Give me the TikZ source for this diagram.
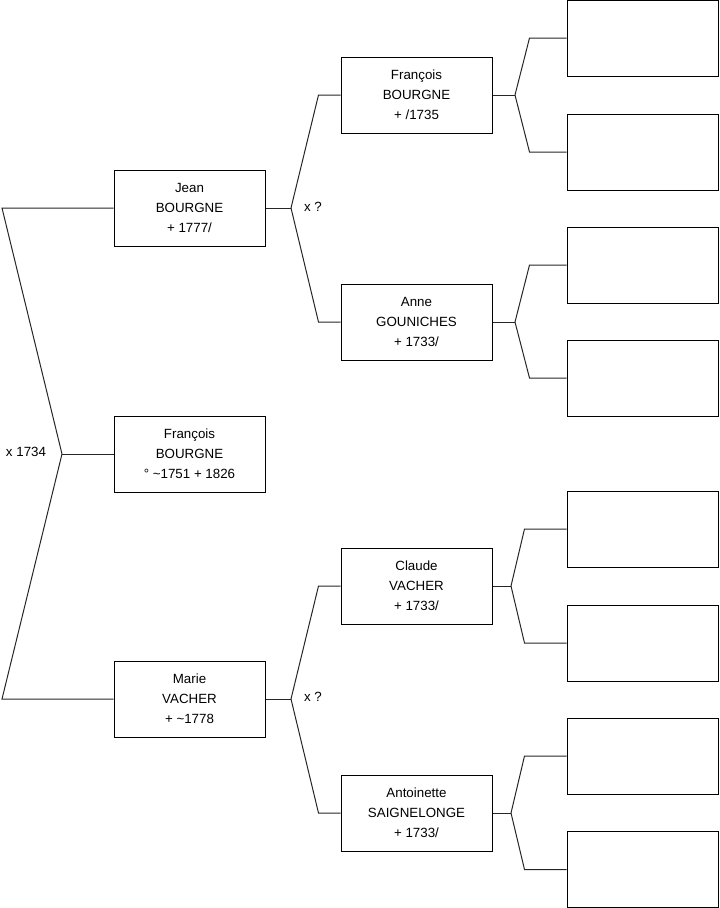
\documentclass[tikz,border=0pt]{standalone}
\usepackage{fontspec}
\setmainfont{Liberation Sans}
\usetikzlibrary{positioning}

\begin{document}
\begin{tikzpicture}[x=0.75pt, y=-0.75pt, line width=0.75pt,
    every node/.style={font=\fontsize{10}{15}\selectfont},
    pers/.style={draw, rectangle, fill=white, align=center, inner sep=0pt,
                 minimum width=113.25pt, minimum height=57pt},
    lien/.style={draw=black!85}]
    \useasboundingbox (0,0) rectangle (719,908);

    % generation 1 et 2
    \node[pers] (F) at (189.5,454) {François\\BOURGNE\\° \textasciitilde 1751 + 1826};
    \node[pers] (J) at (189.5,208) {Jean\\BOURGNE\\+ 1777/};
    \node[pers] (M) at (189.5,699) {Marie\\VACHER\\+ \textasciitilde 1778};

    % generation 3
    \node[pers] (JP) at (416.5,95)  {François\\BOURGNE\\+ /1735};
    \node[pers] (JM) at (416.5,322) {Anne\\GOUNICHES\\+ 1733/};
    \node[pers] (MP) at (416.5,586) {Claude\\VACHER\\+ 1733/};
    \node[pers] (MM) at (416.5,813) {Antoinette\\SAIGNELONGE\\+ 1733/};

    % generation 4 (vides)
    \node[pers] (JPP) at (642.5,38)  {};
    \node[pers] (JPM) at (642.5,152) {};
    \node[pers] (JMP) at (642.5,265) {};
    \node[pers] (JMM) at (642.5,378) {};
    \node[pers] (MPP) at (642.5,529) {};
    \node[pers] (MPM) at (642.5,643) {};
    \node[pers] (MMP) at (642.5,756) {};
    \node[pers] (MMM) at (642.5,869.5) {};

    % points de fourche
    \coordinate (fx) at (62,454);
    \coordinate (jx) at (291,208);
    \coordinate (mx) at (291,699);
    \coordinate (jpx) at (515,95);
    \coordinate (jmx) at (515,322);
    \coordinate (mpx) at (511,586);
    \coordinate (mmx) at (511,813);

    \node (x0) at (26,452) {x 1734};
    \node (x1) at (313,207) {x ?};
    \node (x2) at (313,697) {x ?};

    \draw[lien] (F.west) -- (fx);
    \draw[lien] (fx) -- ++(-60,-246) -- (J.west);
    \draw[lien] (fx) -- ++(-60,245) -- (M.west);

    \draw[lien] (J.east) -- (jx);
    \draw[lien] (jx) -- ([xshift=-16.5pt]JP.west) -- (JP.west);
    \draw[lien] (jx) -- ([xshift=-16.5pt]JM.west) -- (JM.west);
    \draw[lien] (M.east) -- (mx);
    \draw[lien] (mx) -- ([xshift=-16.5pt]MP.west) -- (MP.west);
    \draw[lien] (mx) -- ([xshift=-16.5pt]MM.west) -- (MM.west);

    \draw[lien] (JP.east) -- (jpx);
    \draw[lien] (jpx) -- ([xshift=-27.75pt]JPP.west) -- (JPP.west);
    \draw[lien] (jpx) -- ([xshift=-27.75pt]JPM.west) -- (JPM.west);
    \draw[lien] (JM.east) -- (jmx);
    \draw[lien] (jmx) -- ([xshift=-27.75pt]JMP.west) -- (JMP.west);
    \draw[lien] (jmx) -- ([xshift=-27.75pt]JMM.west) -- (JMM.west);
    \draw[lien] (MP.east) -- (mpx);
    \draw[lien] (mpx) -- ([xshift=-31.5pt]MPP.west) -- (MPP.west);
    \draw[lien] (mpx) -- ([xshift=-31.5pt]MPM.west) -- (MPM.west);
    \draw[lien] (MM.east) -- (mmx);
    \draw[lien] (mmx) -- ([xshift=-31.5pt]MMP.west) -- (MMP.west);
    \draw[lien] (mmx) -- ([xshift=-31.5pt]MMM.west) -- (MMM.west);
\end{tikzpicture}
\end{document}
